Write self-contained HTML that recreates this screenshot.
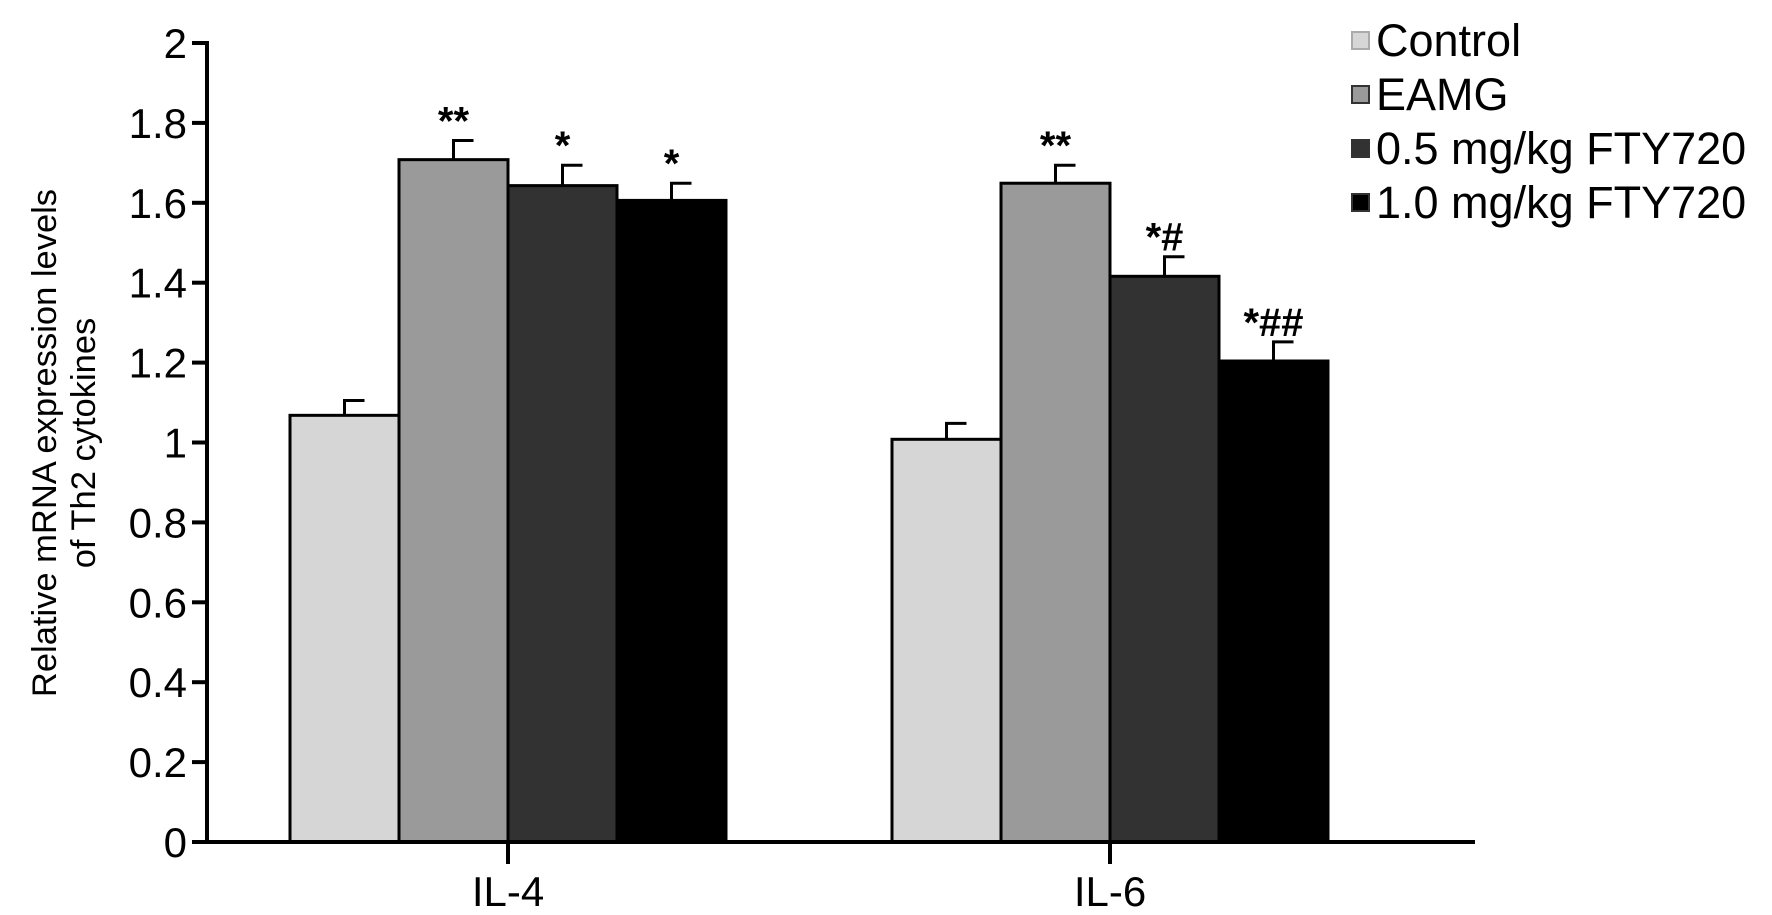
<!DOCTYPE html>
<html><head><meta charset="utf-8"><style>
html,body{margin:0;padding:0;background:#fff;}
svg{display:block;font-family:"Liberation Sans",Arial,sans-serif;}
</style></head><body>
<svg id="chart" width="1772" height="915" viewBox="0 0 1772 915"></svg>
<script>
const categories = ["IL-4", "IL-6"];
const seriesNames = ["Control", "EAMG", "0.5 mg/kg FTY720", "1.0 mg/kg FTY720"];
const control = [1.068, 1.008];
const eamg = [1.708, 1.649];
const fty05 = [1.643, 1.416];
const fty10 = [1.606, 1.204];
const controlErr = [0.037, 0.040];
const eamgErr = [0.048, 0.045];
const fty05Err = [0.051, 0.049];
const fty10Err = [0.043, 0.048];
const controlSig = ["", ""];
const eamgSig = ["**", "**"];
const fty05Sig = ["*", "*#"];
const fty10Sig = ["*", "*##"];
const yTicks = ["0", "0.2", "0.4", "0.6", "0.8", "1", "1.2", "1.4", "1.6", "1.8", "2"];

const svg = document.getElementById('chart');
const NS = 'http://www.w3.org/2000/svg';
function mk(tag, attrs, parent) {
  const e = document.createElementNS(NS, tag);
  for (const k in attrs) e.setAttribute(k, attrs[k]);
  (parent || svg).appendChild(e);
  return e;
}
const x0 = 207, x1 = 1475, y0 = 842, yTop = 43, yMax = 2;
const yScale = v => y0 - (v / yMax) * (y0 - yTop);
const groupCenters = [508, 1110];
const barW = 109;
const xScale = (ci, si) => groupCenters[ci] + (si - 2) * barW;

const series = [control, eamg, fty05, fty10];
const errs = [controlErr, eamgErr, fty05Err, fty10Err];
const sigs = [controlSig, eamgSig, fty05Sig, fty10Sig];
const colors = ["#d6d6d6", "#9a9a9a", "#323232", "#000000"];

for (let si = 0; si < series.length; si++) {
  for (let ci = 0; ci < categories.length; ci++) {
    const v = series[si][ci];
    const bx = xScale(ci, si), by = yScale(v);
    const eTop = yScale(v + errs[si][ci]);
    const cx = bx + barW / 2;
    const el = mk('line', {x1: cx, x2: cx, y1: by, y2: eTop, stroke: '#000', 'stroke-width': 3});
    
    
    const cap = mk('line', {x1: cx - 1.5, x2: cx + 20, y1: eTop, y2: eTop, stroke: '#000', 'stroke-width': 3});
    
    
    const r = mk('rect', {x: bx, y: by, width: barW, height: y0 - by, fill: colors[si], stroke: '#000', 'stroke-width': 3});
    
    
    if (sigs[si][ci]) {
      const t = mk('text', {x: cx, y: eTop - 6, 'text-anchor': 'middle', 'font-size': 40, 'font-weight': 'bold', fill: '#000'});
      t.textContent = sigs[si][ci];
      
      
    }
  }
}
const ya = mk('line', {x1: x0, x2: x0, y1: yTop - 2, y2: y0 + 2, stroke: '#000', 'stroke-width': 4});


const xa = mk('line', {x1: x0 - 2, x2: x1, y1: y0, y2: y0, stroke: '#000', 'stroke-width': 4});


yTicks.forEach(lbl => {
  const y = yScale(parseFloat(lbl));
  const tk = mk('line', {x1: x0 - 15, x2: x0, y1: y, y2: y, stroke: '#000', 'stroke-width': 4});
  
  
  const t = mk('text', {x: x0 - 20, y: y + 15, 'text-anchor': 'end', 'font-size': 42, fill: '#000'});
  t.textContent = lbl;
  
  
});
categories.forEach((c, ci) => {
  const cx = groupCenters[ci];
  const tk = mk('line', {x1: cx, x2: cx, y1: y0, y2: y0 + 22, stroke: '#000', 'stroke-width': 4});
  
  
  const t = mk('text', {x: cx, y: 906, 'text-anchor': 'middle', 'font-size': 42, fill: '#000'});
  t.textContent = c;
  
  
});
const yt = mk('text', {transform: 'translate(56,443) rotate(-90)', 'text-anchor': 'middle', 'font-size': 34.5, fill: '#000'});


const l1 = mk('tspan', {x: 0, dy: 0}, yt); l1.textContent = 'Relative mRNA expression levels';
const l2 = mk('tspan', {x: 0, dy: 39}, yt); l2.textContent = 'of Th2 cytokines';
const legY = [40, 94, 148, 202];
seriesNames.forEach((n, si) => {
  const g = mk('g', {});
  
  
  mk('rect', {x: 1352, y: legY[si] - 8, width: 17, height: 17, fill: colors[si], stroke: si === 0 ? '#aaa' : '#333', 'stroke-width': 2}, g);
  const t = mk('text', {x: 1376, y: legY[si] + 16, 'font-size': 45, fill: '#000'}, g);
  t.textContent = n;
});
</script>
</body></html>
